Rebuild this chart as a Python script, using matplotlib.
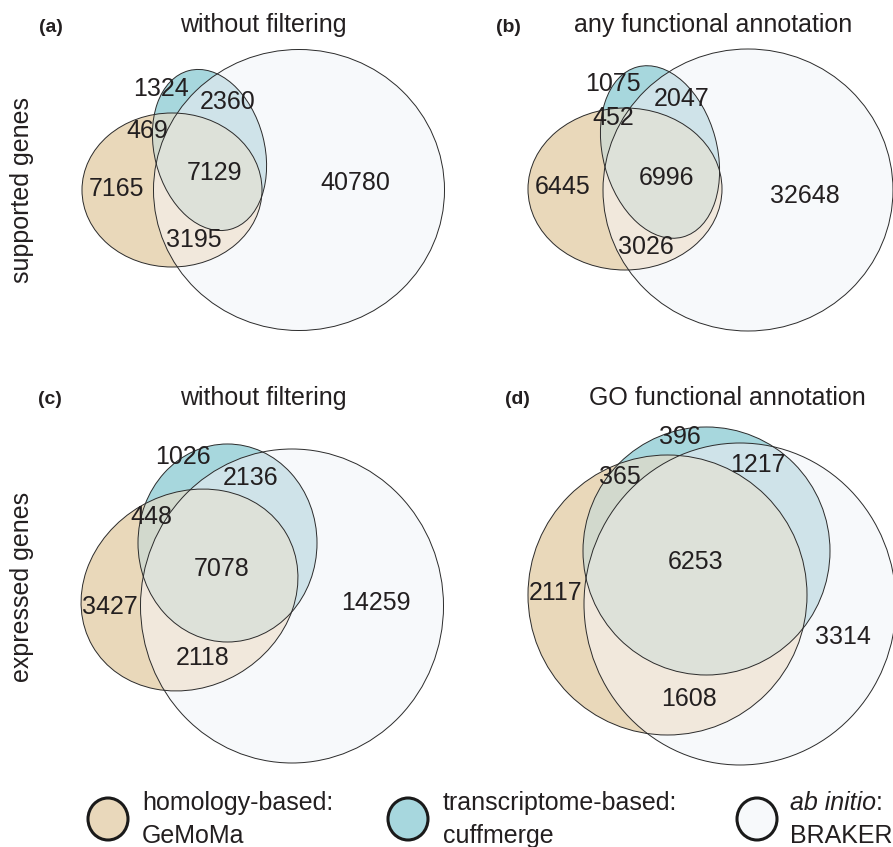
import numpy as np
import matplotlib
matplotlib.use("Agg")
import matplotlib.pyplot as plt
from matplotlib.patches import Ellipse, Circle

plt.rcParams['font.family'] = ['Liberation Sans', 'DejaVu Sans']

# ---- data ----
panel_letters = ['(a)', '(b)', '(c)', '(d)']
panel_titles = ['without filtering', 'any functional annotation',
                'without filtering', 'GO functional annotation']
row_labels = ['supported genes', 'expressed genes']

# region order: homology only, transcriptome only, ab initio only,
#               homology&transcriptome, transcriptome&ab initio,
#               homology&ab initio, all three
counts_a = [7165, 1324, 40780, 469, 2360, 3195, 7129]
counts_b = [6445, 1075, 32648, 452, 2047, 3026, 6996]
counts_c = [3427, 1026, 14259, 448, 2136, 2118, 7078]
counts_d = [2117, 396, 3314, 365, 1217, 1608, 6253]
counts = [counts_a, counts_b, counts_c, counts_d]

legend_line1 = ['homology-based:', 'transcriptome-based:', 'ab initio']
legend_line2 = ['GeMoMa', 'cuffmerge', 'BRAKER']

# ---- layout (pixel coordinates, y down) ----
W, H = 893, 847
# ellipse: (cx, cy, semi-width, semi-height, angle)
shapes = [
    [(172, 190, 90, 77, 0), (209.5, 150, 55, 82, -14.6), (299, 190, 145.5, 140.5, 0)],
    [(625, 189, 97, 81, 0), (660, 152, 57, 88, -15), (748, 190, 145, 141, 0)],
    [(189.5, 590, 112, 97, -30), (227.5, 543, 89.5, 99, 0), (292, 606, 151.5, 157, 0)],
    [(667.5, 595, 139.5, 140, 0), (706.5, 551, 123.5, 124, 0), (740, 604, 156, 161, 0)],
]
label_pos = [
    [(117, 189), (161, 89), (355, 183), (147, 131), (228, 102), (194, 240), (214, 173)],
    [(563, 187), (613, 84), (805, 196), (613, 118), (682, 99), (646, 247), (667, 178)],
    [(110, 607), (183, 457), (376, 603), (151, 517), (251, 478), (203, 658), (222, 569)],
    [(556, 593), (680, 437), (843, 637), (620, 477), (758, 465), (689, 699), (696, 562)],
]
letter_pos = [(51, 27), (508, 27), (50, 400), (517, 400)]
title_pos = [(263, 25), (713, 25), (263, 398), (727, 398)]
row_pos = [(22, 190), (22, 587)]

region_colors = {
    (1, 0, 0): '#e9d8bb',
    (0, 1, 0): '#a7d7de',
    (0, 0, 1): '#f7f9fb',
    (1, 1, 0): '#d3dacd',
    (0, 1, 1): '#cfe3e9',
    (1, 0, 1): '#f2e8dc',
    (1, 1, 1): '#dde1da',
}
legend_colors = ['#e9d8bb', '#a7d7de', '#f7f9fb']
text_color = '#231f20'


def inside(X, Y, g):
    cx, cy, a, b, ang = g
    t = np.deg2rad(ang)
    dx, dy = X - cx, Y - cy
    u = dx * np.cos(t) + dy * np.sin(t)
    v = -dx * np.sin(t) + dy * np.cos(t)
    return (u / a) ** 2 + (v / b) ** 2 <= 1


fig = plt.figure(figsize=(W / 100, H / 100), dpi=100)
ax = fig.add_axes([0, 0, 1, 1])
ax.set_xlim(0, W)
ax.set_ylim(H, 0)
ax.axis('off')

# filled regions as an image
ss = 2
xs = (np.arange(W * ss) + 0.5) / ss
ys = (np.arange(H * ss) + 0.5) / ss
X, Y = np.meshgrid(xs, ys)
img = np.ones((H * ss, W * ss, 3))
for trio in shapes:
    m = [inside(X, Y, g) for g in trio]
    for key, col in region_colors.items():
        sel = (m[0] == bool(key[0])) & (m[1] == bool(key[1])) & (m[2] == bool(key[2]))
        img[sel] = matplotlib.colors.to_rgb(col)
ax.imshow(img, extent=(0, W, H, 0), interpolation='bilinear', zorder=0)

# outlines
for trio in shapes:
    for cx, cy, a, b, ang in trio:
        ax.add_patch(Ellipse((cx, cy), 2 * a, 2 * b, angle=ang, fill=False,
                             edgecolor='#2b2b2b', linewidth=0.7, zorder=2))

# numbers
for cnt, pos in zip(counts, label_pos):
    for n, (x, y) in zip(cnt, pos):
        ax.text(x, y, str(n), ha='center', va='center', fontsize=18,
                color=text_color, zorder=3)

# titles and panel letters
for (lx, ly), lab in zip(letter_pos, panel_letters):
    ax.text(lx, ly, lab, ha='center', va='center', fontsize=14,
            fontweight='bold', color=text_color)
for (tx, ty), tit in zip(title_pos, panel_titles):
    ax.text(tx, ty, tit, ha='center', va='center', fontsize=18, color=text_color)
for (rx, ry), lab in zip(row_pos, row_labels):
    ax.text(rx, ry, lab, ha='center', va='center', rotation=90, fontsize=18,
            color=text_color)

# legend
leg_circle_x = [108, 408, 757]
leg_text_x = [142, 443, 790]
leg_y = 819
for i in range(3):
    ax.add_patch(Ellipse((leg_circle_x[i], leg_y), 40, 42, facecolor=legend_colors[i],
                         edgecolor='#1a1a1a', linewidth=2.2, zorder=3))
    style = 'italic' if i == 2 else 'normal'
    t1 = ax.text(leg_text_x[i], 803, legend_line1[i], ha='left', va='center',
                 fontsize=18, style=style, color=text_color,
                 family=['Liberation Sans Narrow', 'Liberation Sans'])
    if i == 2:
        ax.annotate(':', xy=(1, 0), xycoords=t1, ha='left', va='bottom',
                    fontsize=18, color=text_color,
                    family=['Liberation Sans Narrow', 'Liberation Sans'])
    ax.text(leg_text_x[i], 836, legend_line2[i], ha='left', va='center',
            fontsize=18, color=text_color,
            family=['Liberation Sans Narrow', 'Liberation Sans'])

fig.savefig('out.png', dpi=100)
